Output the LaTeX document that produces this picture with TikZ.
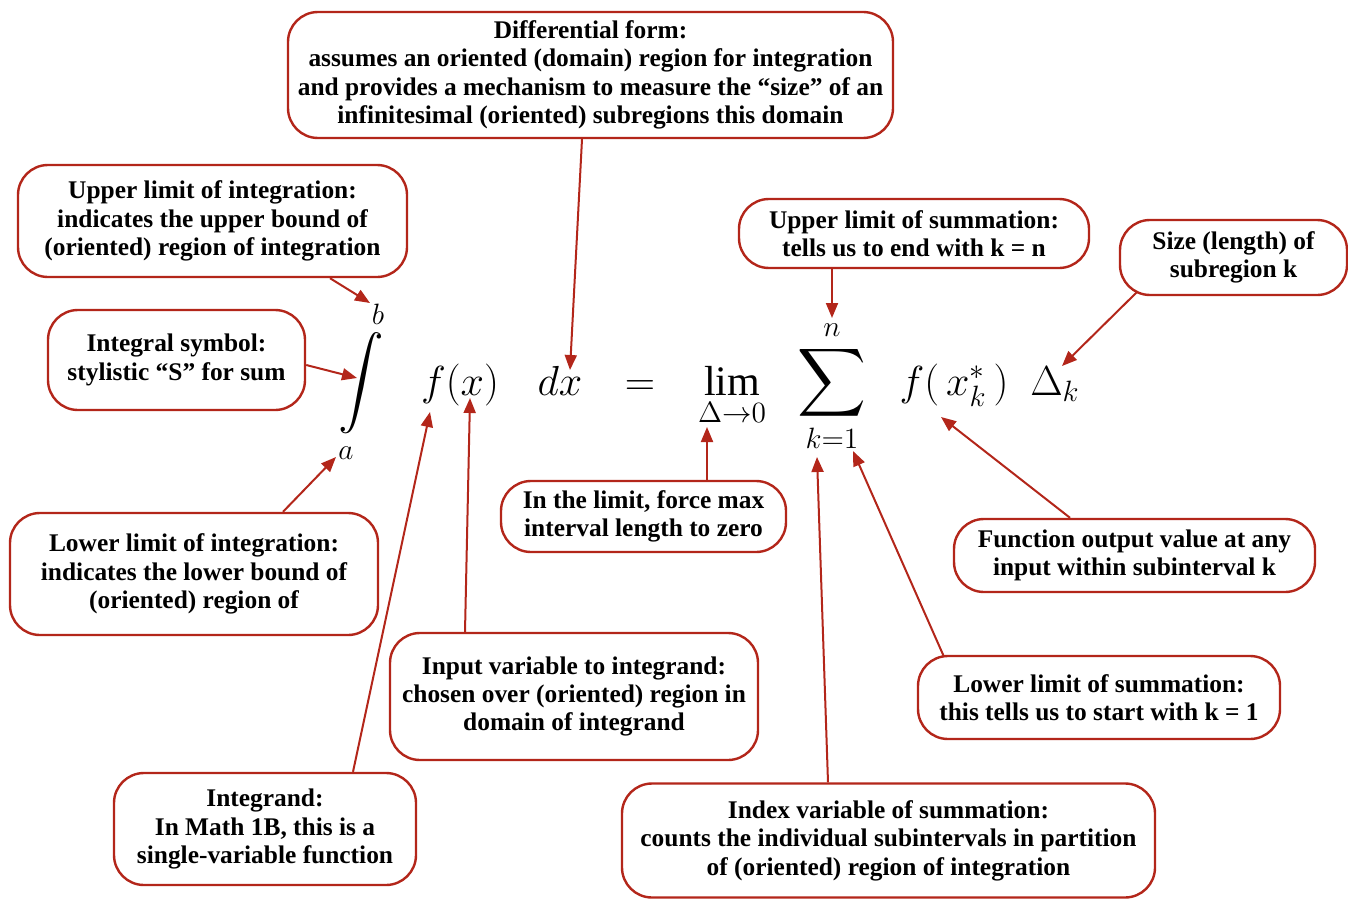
\RequirePackage{fix-cm}
\documentclass[tikz,border=0pt]{standalone}
\usepackage{fontspec}
\setmainfont{Liberation Serif}
\usepackage{amsmath}
\usepackage{graphicx}
\usetikzlibrary{arrows.meta}
\definecolor{calloutred}{HTML}{B3261A}

\begin{document}
\begin{tikzpicture}[x=0.5pt, y=-0.5pt,
  callout/.style={draw=calloutred, line width=1.2pt, rounded corners=15pt, fill=white, align=center, inner sep=0pt, font=\bfseries\fontsize{12.7}{14.2}\selectfont},
  formula/.style={anchor=base, inner sep=0pt, font=\fontsize{21}{25}\selectfont},
  arrow/.style={-{Triangle[length=7.5pt,width=6pt]}, draw=calloutred, line width=1pt}
]
  \useasboundingbox (0,0) rectangle (1348,899);

  \node[formula] (intsym) at (362,395) {$\displaystyle\mathop{\scalebox{1.1}{$\displaystyle\int$}}\limits_{a\kern16pt}^{\kern16pt b}$};
  \node[formula] (fx) at (460,395) {$f(x)$};
  \node[formula] (dx) at (560,395) {$dx$};
  \node[formula] (eq) at (640,395) {$=$};
  \node[formula] (lim) at (732,395) {$\displaystyle\lim_{\Delta\to0}$};
  \node[formula] (sum) at (832,395) {$\displaystyle\mathop{\scalebox{1.15}{$\displaystyle\sum$}}\limits_{k=1}^{n}$};
  \node[formula] (fxk) at (954,395) {$f(\,x_k^*\,)$};
  \node[formula] (delk) at (1055,395) {$\Delta_k$};

  \node[callout, minimum width=302.5pt, minimum height=63pt] (diff) at (590.5,75) {Differential form:\\assumes an oriented (domain) region for integration\\and provides a mechanism to measure the “size” of an\\infinitesimal (oriented) subregions this domain};
  \node[callout, minimum width=194.5pt, minimum height=56pt] (upint) at (212.5,221) {Upper limit of integration:\\indicates the upper bound of\\(oriented) region of integration};
  \node[callout, minimum width=128.5pt, minimum height=50pt] (sym) at (176.5,360) {Integral symbol:\\stylistic “S” for sum};
  \node[callout, minimum width=184pt, minimum height=61pt] (loint) at (194,574) {Lower limit of integration:\\indicates the lower bound of\\(oriented) region of};
  \node[callout, minimum width=151pt, minimum height=56pt] (integrand) at (265,829) {Integrand:\\In Math 1B, this is a\\single-variable function};
  \node[callout, minimum width=184pt, minimum height=63.5pt] (inputvar) at (574,696.5) {Input variable to integrand:\\chosen over (oriented) region in\\domain of integrand};
  \node[callout, minimum width=142.5pt, minimum height=35.5pt] (limit) at (643.5,516.5) {In the limit, force max\\interval length to zero};
  \node[callout, minimum width=175pt, minimum height=34.5pt] (upsum) at (914,233.5) {Upper limit of summation:\\tells us to end with k = n};
  \node[callout, minimum width=113.5pt, minimum height=37.5pt] (size) at (1233.5,257.5) {Size (length) of\\subregion k};
  \node[callout, minimum width=180.5pt, minimum height=36.5pt] (funcout) at (1134.5,555.5) {Function output value at any\\input within subinterval k};
  \node[callout, minimum width=181pt, minimum height=41.5pt] (losum) at (1099,697.5) {Lower limit of summation:\\this tells us to start with k = 1};
  \node[callout, minimum width=266.5pt, minimum height=57pt] (index) at (888.5,840.5) {Index variable of summation:\\counts the individual subintervals in partition\\of (oriented) region of integration};

  \coordinate (dxtip) at (570,370);
  \coordinate (btip) at (370,303);
  \coordinate (inttip) at (357,378);
  \coordinate (atip) at (336,457);
  \coordinate (ftip) at (430,412);
  \coordinate (xtip) at (470,398);
  \coordinate (limtip) at (707,427);
  \coordinate (ntip) at (832,318);
  \coordinate (deltip) at (1062,366);
  \coordinate (fxktip) at (941,417);
  \coordinate (onetip) at (853,451);
  \coordinate (ktip) at (817,457);

  \draw[arrow] ([xshift=-4.25pt]diff.south) -- (dxtip);
  \draw[arrow] ([xshift=58.75pt]upint.south) -- (btip);
  \draw[arrow] ([yshift=-2.5pt]sym.east) -- (inttip);
  \draw[arrow] ([xshift=44.5pt]loint.north) -- (atip);
  \draw[arrow] ([xshift=44pt]integrand.north) -- (ftip);
  \draw[arrow] ([xshift=-54.5pt]inputvar.north) -- (xtip);
  \draw[arrow] ([xshift=31.75pt]limit.north) -- (limtip);
  \draw[arrow] ([xshift=-41pt]upsum.south) -- (ntip);
  \draw[arrow] ([xshift=9pt,yshift=2pt]size.south west) -- (deltip);
  \draw[arrow] ([xshift=-32.25pt]funcout.north) -- (fxktip);
  \draw[arrow] ([xshift=-77.5pt,yshift=-1pt]losum.north) -- (onetip);
  \draw[arrow] ([xshift=-30.25pt]index.north) -- (ktip);
\end{tikzpicture}
\end{document}
